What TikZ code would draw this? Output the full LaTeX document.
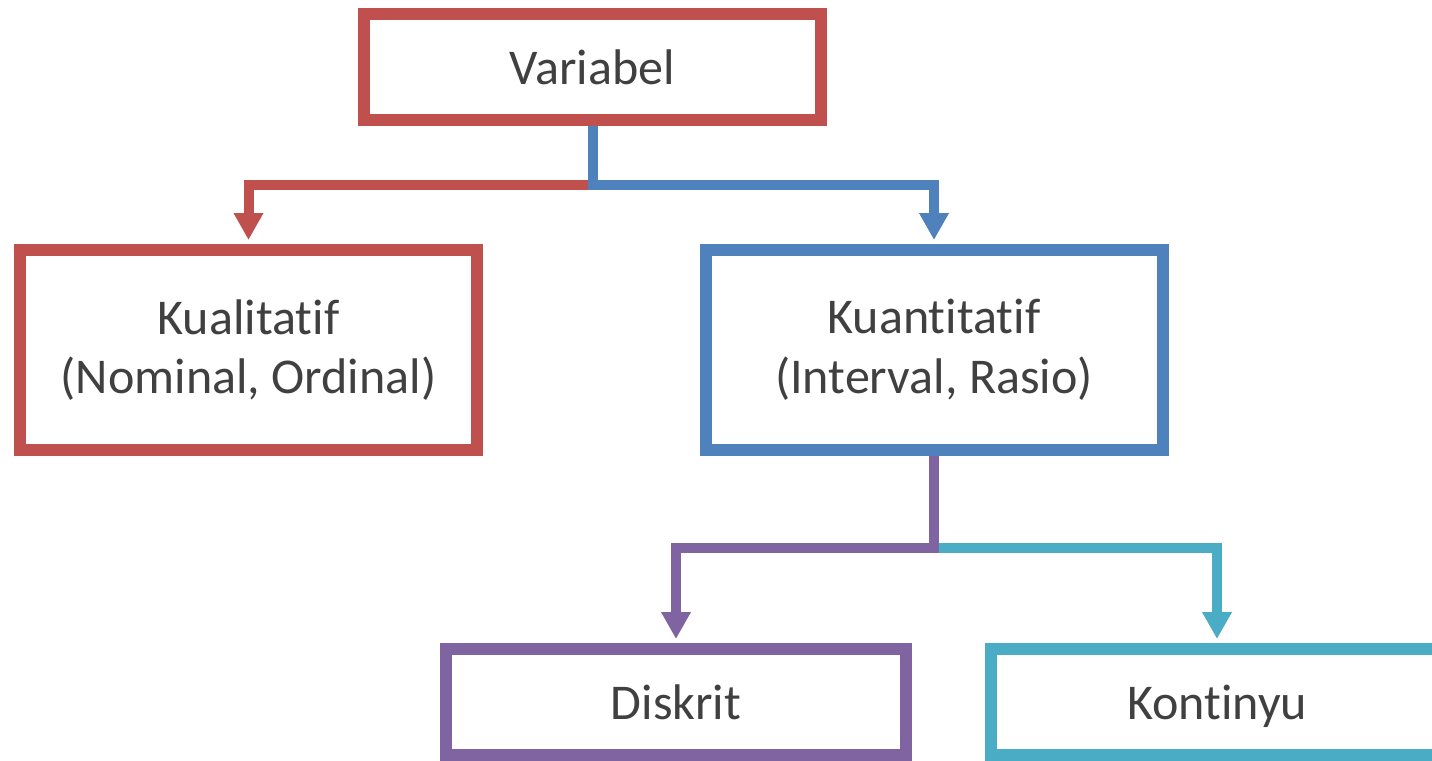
\documentclass[tikz,border=0pt]{standalone}
\usepackage{fontspec}
\setmainfont{Carlito}[Ligatures=NoCommon]
\usetikzlibrary{arrows.meta}
\definecolor{cred}{HTML}{C0504D}
\definecolor{cblue}{HTML}{4F81BD}
\definecolor{cpurple}{HTML}{8064A2}
\definecolor{cteal}{HTML}{4BACC6}
\definecolor{ctext}{HTML}{404040}
\tikzset{
  box/.style={draw, fill=white, line width=12*0.02cm, rectangle, inner sep=0pt,
    minimum width=457*0.02cm, text=ctext, align=center,
    font=\fontsize{28.5pt}{34pt}\selectfont},
  oneline/.style={text height=26pt, text depth=5.6pt},
  conn/.style={line width=10*0.02cm, line join=miter,
    -{Triangle[width=28*0.02cm, length=27*0.02cm]}, shorten >=4*0.02cm},
}
\begin{document}
\begin{tikzpicture}[x=0.02cm, y=-0.02cm]
\useasboundingbox (0,0) rectangle (1432,760);
\clip (0,0) rectangle (1432,760);
\node[box, oneline, draw=cred, minimum height=106*0.02cm] (var) at (592.5,67) {Variabel};
\node[box, draw=cred, minimum height=200*0.02cm] (kual) at (248.5,350) {Kualitatif\\(Nominal, Ordinal)};
\node[box, draw=cblue, minimum height=200*0.02cm] (kuan) at (934,350) {Kuantitatif\\(Interval, Rasio)};
\node[box, oneline, draw=cpurple, minimum width=460*0.02cm, minimum height=106*0.02cm] (disk) at (676,702) {Diskrit};
\node[box, oneline, draw=cteal, minimum width=452*0.02cm, minimum height=106*0.02cm] (kont) at (1217,702) {Kontinyu};
\coordinate (j1) at (var.south |- 0,185);
\coordinate (j2) at (kuan.south |- 0,548);
\draw[conn, cred] (j1) -| (kual.north);
\draw[conn, cblue] (var.south) -- (j1) -| (kuan.north);
\draw[conn, cteal] (j2) -| (kont.north);
\draw[conn, cpurple] (kuan.south) -- (j2) -| (disk.north);
\end{tikzpicture}
\end{document}
